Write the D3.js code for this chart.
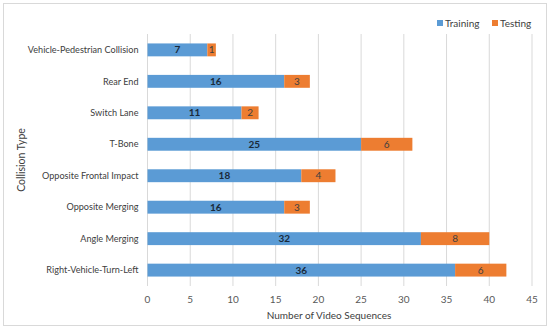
<html>
<head>
<script src="https://d3js.org/d3.v7.min.js"></script>
<style>
  body { margin: 0; background: #fff; }
  text { font-family: Lato, "Open Sans", sans-serif; }
</style>
</head>
<body>
<svg id="chart" width="550" height="329"></svg>
<script>
  // data
  const categories = ["Vehicle-Pedestrian Collision", "Rear End", "Switch Lane", "T-Bone",
                      "Opposite Frontal Impact", "Opposite Merging", "Angle Merging", "Right-Vehicle-Turn-Left"];
  const training = [7, 16, 11, 25, 18, 16, 32, 36];
  const testing = [1, 3, 2, 6, 4, 3, 8, 6];
  const xTicks = [0, 5, 10, 15, 20, 25, 30, 35, 40, 45];
  const seriesNames = ["Training", "Testing"];
  const colors = ["#5b9bd5", "#ed7d31"];

  const svg = d3.select("svg#chart");
  const margin = {left: 147.5, right: 18, top: 34, bottom: 43};
  const W = 550, H = 329;

  // outer frame
  svg.append("rect").attr("x", 3.5).attr("y", 3.5).attr("width", W - 7).attr("height", H - 7)
     .attr("fill", "none").attr("stroke", "#d9d9d9");

  const x = d3.scaleLinear().domain([0, 45]).range([margin.left, W - margin.right]);
  const y = d3.scaleBand().domain(categories).range([margin.top, H - margin.bottom]).paddingInner(0.59).paddingOuter(0.3);

  // gridlines
  svg.selectAll("line.grid").data(xTicks).join("line")
     .attr("class", "grid")
     .attr("x1", d => x(d)).attr("x2", d => x(d))
     .attr("y1", margin.top).attr("y2", H - margin.bottom)
     .attr("stroke", "#d9d9d9").attr("stroke-width", 1);

  // x tick labels
  svg.selectAll("text.xt").data(xTicks).join("text")
     .attr("class", "xt")
     .attr("x", d => x(d)).attr("y", H - margin.bottom + 17)
     .attr("text-anchor", "middle").attr("font-size", 10).attr("fill", "#595959")
     .text(d => d);

  // category labels
  svg.selectAll("text.yt").data(categories).join("text")
     .attr("class", "yt")
     .attr("x", margin.left - 9).attr("y", d => y(d) + y.bandwidth() / 2)
     .attr("dy", "0.35em").attr("text-anchor", "end").attr("font-size", 9.1).attr("fill", "#404040")
     .text(d => d);

  const rows = categories.map((c, i) => ({c: c, tr: training[i], te: testing[i]}));

  // training bars
  svg.selectAll("rect.tr").data(rows).join("rect")
     .attr("class", "tr")
     .attr("x", x(0)).attr("y", d => y(d.c))
     .attr("width", d => x(d.tr) - x(0)).attr("height", y.bandwidth())
     .attr("fill", colors[0]);

  // testing bars
  svg.selectAll("rect.te").data(rows).join("rect")
     .attr("class", "te")
     .attr("x", d => x(d.tr)).attr("y", d => y(d.c))
     .attr("width", d => x(d.tr + d.te) - x(d.tr)).attr("height", y.bandwidth())
     .attr("fill", colors[1]);

  // value labels
  svg.selectAll("text.ltr").data(rows).join("text")
     .attr("class", "ltr")
     .attr("x", d => (x(0) + x(d.tr)) / 2).attr("y", d => y(d.c) + y.bandwidth() / 2)
     .attr("dy", "0.35em").attr("text-anchor", "middle")
     .attr("font-size", 10).attr("font-weight", "bold").attr("fill", "#1a2a3a")
     .text(d => d.tr);

  svg.selectAll("text.lte").data(rows).join("text")
     .attr("class", "lte")
     .attr("x", d => (x(d.tr) + x(d.tr + d.te)) / 2).attr("y", d => y(d.c) + y.bandwidth() / 2)
     .attr("dy", "0.35em").attr("text-anchor", "middle")
     .attr("font-size", 10).attr("fill", "#404040")
     .text(d => d.te);

  // axis titles
  svg.append("text").attr("x", 329).attr("y", H - 10)
     .attr("text-anchor", "middle").attr("font-size", 10).attr("fill", "#404040")
     .text("Number of Video Sequences");
  svg.append("text").attr("transform", "translate(25," + ((margin.top + H - margin.bottom) / 2) + ") rotate(-90)")
     .attr("text-anchor", "middle").attr("font-size", 10.5).attr("fill", "#404040")
     .text("Collision Type");

  // legend
  const legX = [437, 492];
  seriesNames.forEach((s, i) => {
    svg.append("rect").attr("x", legX[i]).attr("y", 20).attr("width", 6).attr("height", 6).attr("fill", colors[i]);
    svg.append("text").attr("x", legX[i] + 8).attr("y", 23).attr("dy", "0.35em")
       .attr("font-size", 10).attr("fill", "#404040").text(s);
  });
</script>
</body>
</html>
